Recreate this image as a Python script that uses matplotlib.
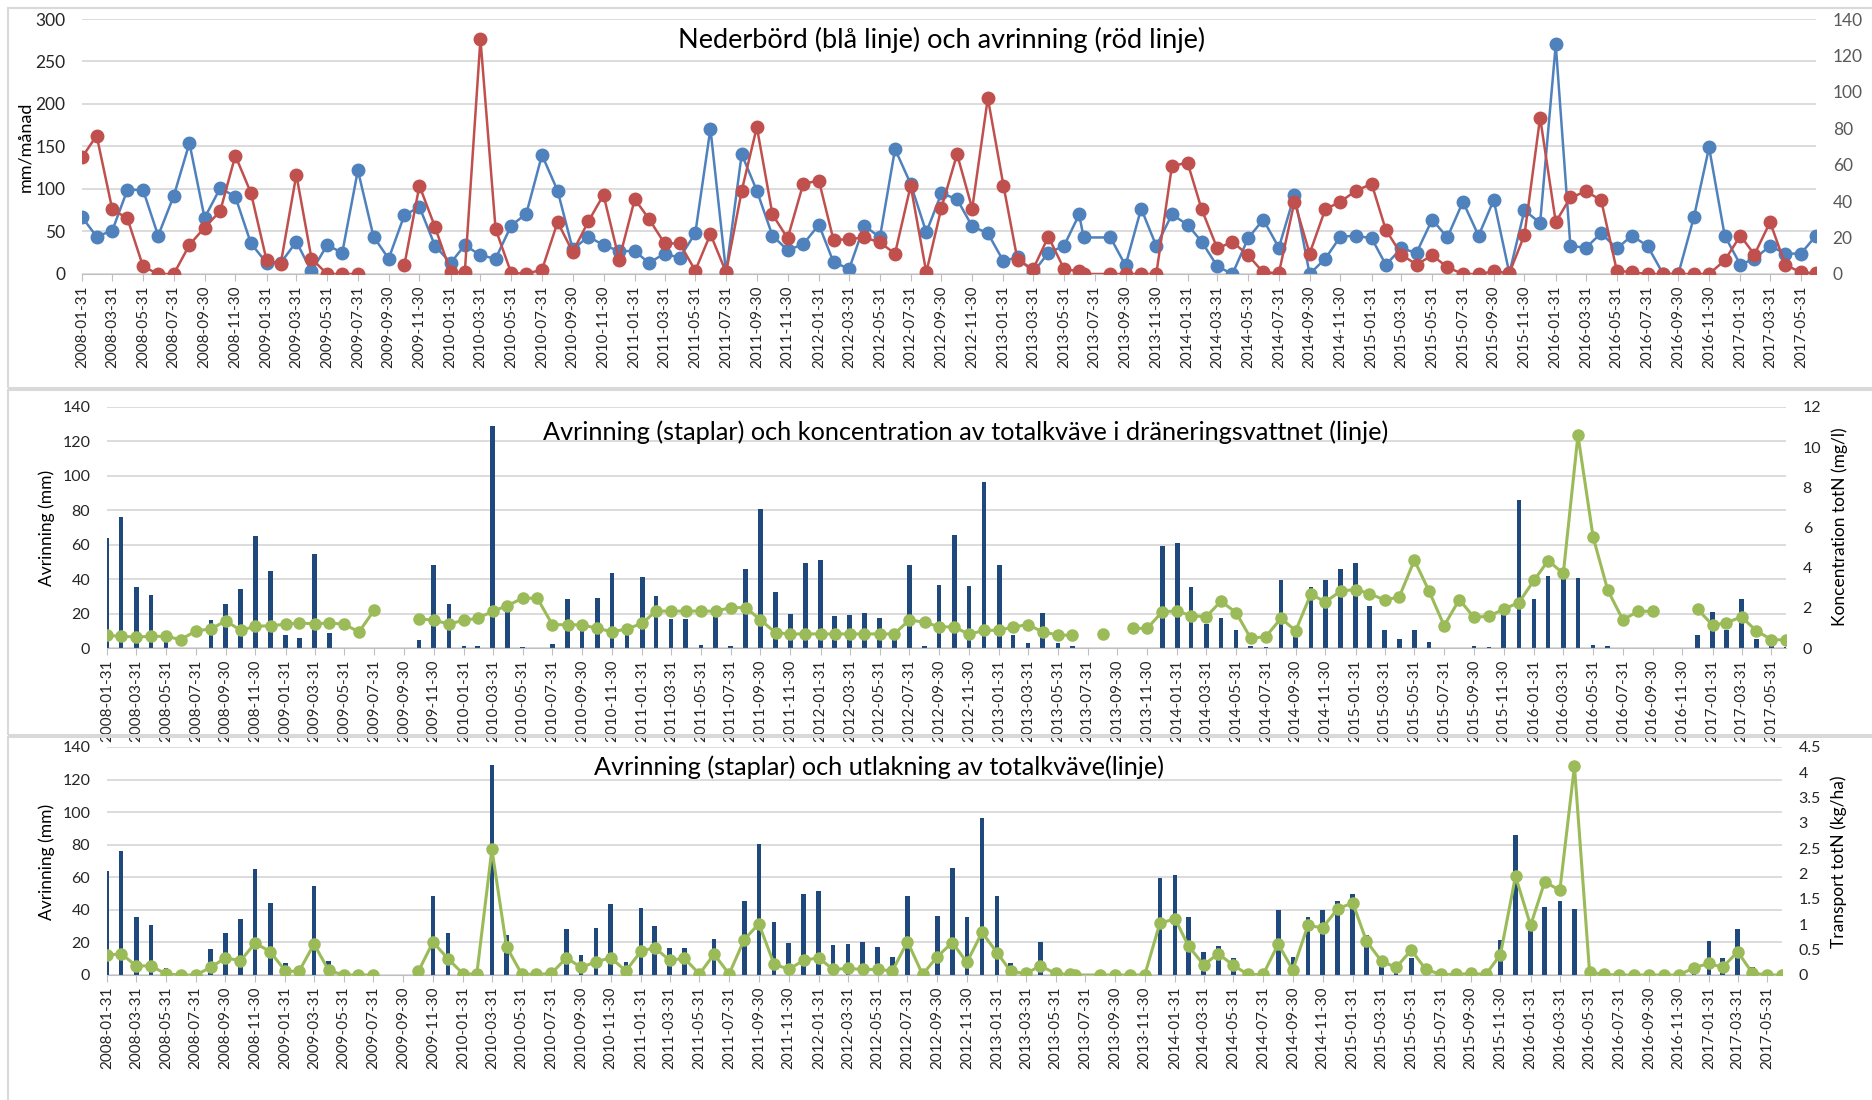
import numpy as np
import pandas as pd
import matplotlib.pyplot as plt
from matplotlib.patches import Rectangle

plt.rcParams['font.family'] = ['Lato', 'DejaVu Sans']

nan = np.nan

# Månadsdatum 2008-01 .. 2017-06 (ett extra mättillfälle i juli 2013)
dates = list(pd.date_range('2008-01-31', periods=114, freq='ME'))
dates[66] = pd.Timestamp('2013-07-09')
dates = pd.DatetimeIndex(dates)

tick_dates = pd.date_range('2008-01-31', '2017-05-31', freq='2ME')
tick_labels = [d.strftime('%Y-%m-%d') for d in tick_dates]

# Nederbörd (mm/månad)
nederbord = [67, 44, 51, 99, 99, 45, 92, 154, 66, 101,
             91, 36, 13, 13, 38, 3, 34, 25, 122, 44,
             18, 69, 79, 33, 13, 34, 22, 18, 57, 71,
             140, 98, 29, 44, 34, 27, 27, 13, 24, 19,
             48, 171, 2, 141, 98, 45, 28, 35, 58, 14,
             6, 57, 43, 147, 106, 49, 95, 88, 56, 48,
             15, 20, 2, 25, 33, 70, 43, 43, 10, 77,
             33, 70, 58, 38, 9, 0, 42, 64, 31, 93,
             0, 18, 44, 45, 42, 11, 30, 25, 64, 43,
             85, 45, 87, 1, 75, 60, 270, 33, 31, 48,
             30, 45, 33, 0, 0, 67, 149, 45, 11, 18,
             33, 24, 24, 45]

# Avrinning (mm)
avrinning = [64, 76, 35.5, 30.5, 4.2, 0, 0, 16, 25.5, 34.5,
             65, 44.5, 7.5, 5.6, 54.5, 8.5, 0, 0, 0, nan,
             nan, 4.7, 48.5, 25.7, 1, 1, 129, 24.7, 0.5, 0.2,
             2.3, 28.5, 12.1, 28.9, 43.4, 7.9, 41.1, 30.3, 16.8, 16.8,
             1.9, 21.9, 0.9, 45.7, 80.7, 32.7, 19.6, 49.5, 51.3, 18.7,
             19.1, 20.1, 17.3, 11.2, 48.5, 0.9, 36.4, 65.8, 35.9, 96.6,
             48.5, 7.5, 2.8, 20.5, 2.8, 1.4, 0, 0, 0, 0,
             0, 59.3, 61.1, 35.5, 14, 17.7, 10.3, 0.9, 0.5, 39.7,
             11.2, 35.5, 39.7, 45.7, 49.5, 24.3, 10.7, 5.1, 10.3, 3.7,
             0, 0, 1.4, 0.5, 21.5, 85.9, 28.5, 42, 45.3, 40.6,
             1.9, 0.9, 0, 0, 0, 0, 0, 7.5, 21, 10.7,
             28.5, 5.1, 0.9, 0.5]

# Koncentration totN (mg/l)
koncentration = [0.63, 0.58, 0.55, 0.58, 0.58, 0.42, 0.85, 0.95, 1.35, 0.88,
                 1.08, 1.11, 1.18, 1.25, 1.2, 1.25, 1.18, 0.8, 1.88, nan,
                 nan, 1.46, 1.38, 1.2, 1.38, 1.48, 1.83, 2.11, 2.48, 2.48,
                 1.16, 1.16, 1.15, 0.98, 0.81, 0.95, 1.23, 1.84, 1.83, 1.84,
                 1.84, 1.83, 2.01, 2.01, 1.4, 0.76, 0.7, 0.7, 0.7, 0.7,
                 0.7, 0.7, 0.7, 0.7, 1.4, 1.28, 1.06, 1.05, 0.68, 0.88,
                 0.88, 1.05, 1.16, 0.8, 0.65, 0.63, nan, 0.7, nan, 0.98,
                 0.98, 1.81, 1.84, 1.6, 1.56, 2.33, 1.76, 0.48, 0.57, 1.48,
                 0.86, 2.68, 2.29, 2.84, 2.91, 2.71, 2.39, 2.54, 4.37, 2.84,
                 1.11, 2.41, 1.53, 1.58, 1.94, 2.26, 3.37, 4.35, 3.71, 10.59,
                 5.53, 2.88, 1.4, 1.83, 1.83, nan, nan, 1.93, 1.13, 1.26,
                 1.55, 0.86, 0.42, 0.4]

# Transport totN (kg/ha)
transport = [0.39, 0.42, 0.18, 0.18, 0.02, 0, 0, 0.15, 0.34, 0.28,
             0.63, 0.46, 0.08, 0.07, 0.61, 0.09, 0, 0, 0, nan,
             nan, 0.07, 0.65, 0.32, 0.02, 0.02, 2.48, 0.56, 0.02, 0.01,
             0.03, 0.34, 0.15, 0.26, 0.34, 0.08, 0.47, 0.54, 0.29, 0.33,
             0.02, 0.41, 0.02, 0.7, 1.01, 0.22, 0.11, 0.29, 0.34, 0.11,
             0.13, 0.11, 0.11, 0.08, 0.66, 0.01, 0.36, 0.64, 0.25, 0.84,
             0.44, 0.07, 0.03, 0.18, 0.03, 0.01, 0, 0, 0, 0,
             0, 1.02, 1.11, 0.57, 0.2, 0.42, 0.19, 0.01, 0.01, 0.61,
             0.1, 0.98, 0.93, 1.31, 1.42, 0.67, 0.27, 0.15, 0.49, 0.11,
             0.01, 0.01, 0.03, 0.01, 0.4, 1.95, 0.98, 1.84, 1.67, 4.12,
             0.06, 0.01, 0, 0, 0, 0, 0, 0.14, 0.23, 0.15,
             0.46, 0.04, 0, 0]

BLUE = '#4F81BD'
RED = '#C0504D'
GREEN = '#9BBB59'
NAVY = '#1F497D'
GRID = '#D9D9D9'

W, H = 1872, 1100
fig = plt.figure(figsize=(W / 100, H / 100), dpi=100)


def px_axes(x0, y0, x1, y1):
    # pixel box (top-left origin) -> axes
    return fig.add_axes([x0 / W, 1 - y1 / H, (x1 - x0) / W, (y1 - y0) / H])


def style(ax, twin):
    ax.set_xlim(dates[0], dates[-1])
    ax.set_xticks(tick_dates)
    ax.set_xticklabels(tick_labels, rotation=90, fontsize=11, color='#262626')
    ax.tick_params(axis='x', length=5, color='#BFBFBF', pad=3)
    for s in ['top', 'left', 'right']:
        ax.spines[s].set_visible(False)
    ax.spines['bottom'].set_color('#BFBFBF')
    ax.yaxis.grid(True, color=GRID, lw=1.3)
    ax.set_axisbelow(True)
    ax.tick_params(axis='y', length=0, pad=12)
    for s in twin.spines.values():
        s.set_visible(False)
    twin.tick_params(axis='y', length=0, pad=12)


# panelramar
for y0, y1 in [(8, 388), (390, 735), (737, 1110)]:
    fig.add_artist(Rectangle((8 / W, 1 - y1 / H), 1.0, (y1 - y0) / H,
                             transform=fig.transFigure, fill=False,
                             ec='#D9D9D9', lw=1.5))

# Panel 1
ax1 = px_axes(82, 19, 1816, 274)
ax1r = ax1.twinx()
ax1.plot(dates, nederbord, color=BLUE, lw=1.8, marker='o', ms=9)
ax1r.plot(dates, avrinning, color=RED, lw=1.8, marker='o', ms=9)
ax1.set_ylim(0, 300)
ax1.set_yticks(range(0, 301, 50))
ax1r.set_ylim(0, 140)
ax1r.set_yticks(range(0, 141, 20))
style(ax1, ax1r)
ax1.tick_params(axis='y', labelsize=12.5, labelcolor='#262626')
ax1r.tick_params(axis='y', labelsize=12.5, labelcolor='#595959')
fig.text(25 / W, 1 - 147 / H, 'mm/månad', rotation=90, fontsize=13,
         ha='center', va='center')
fig.text(942 / W, 1 - 40 / H, 'Nederbörd (blå linje) och avrinning (röd linje)',
         fontsize=19.5, ha='center', va='center')

# Panel 2
ax2 = px_axes(107, 407, 1786, 648)
ax2r = ax2.twinx()
ax2.bar(dates, avrinning, width=9.5, color=NAVY)
ax2r.plot(dates, koncentration, color=GREEN, lw=2.2, marker='o', ms=8)
ax2.set_ylim(0, 140)
ax2.set_yticks(range(0, 141, 20))
ax2r.set_ylim(0, 12)
ax2r.set_yticks(range(0, 13, 2))
style(ax2, ax2r)
ax2.tick_params(axis='y', labelsize=11.5, labelcolor='#262626')
ax2r.tick_params(axis='y', labelsize=11.5, labelcolor='#262626')
fig.text(47 / W, 1 - 528 / H, 'Avrinning (mm)', rotation=90, fontsize=12.5,
         ha='center', va='center')
fig.text(1840 / W, 1 - 527 / H, 'Koncentration totN (mg/l)', rotation=90,
         fontsize=12.5, ha='center', va='center')
fig.text(966 / W, 1 - 432 / H,
         'Avrinning (staplar) och koncentration av totalkväve i dräneringsvattnet (linje)',
         fontsize=18.2, ha='center', va='center')

# Panel 3
ax3 = px_axes(107, 747, 1782, 975)
ax3r = ax3.twinx()
ax3.bar(dates, avrinning, width=9.5, color=NAVY)
ax3r.plot(dates, transport, color=GREEN, lw=2.2, marker='o', ms=8)
ax3.set_ylim(0, 140)
ax3.set_yticks(range(0, 141, 20))
ax3r.set_ylim(0, 4.5)
ax3r.set_yticks(np.arange(0, 4.51, 0.5))
ax3r.set_yticklabels(['0', '0.5', '1', '1.5', '2', '2.5', '3', '3.5', '4', '4.5'])
style(ax3, ax3r)
ax3.tick_params(axis='y', labelsize=11.5, labelcolor='#262626')
ax3r.tick_params(axis='y', labelsize=11.5, labelcolor='#262626')
fig.text(47 / W, 1 - 862 / H, 'Avrinning (mm)', rotation=90, fontsize=12.5,
         ha='center', va='center')
fig.text(1839 / W, 1 - 862 / H, 'Transport totN (kg/ha)', rotation=90,
         fontsize=12.5, ha='center', va='center')
fig.text(879 / W, 1 - 767 / H, 'Avrinning (staplar) och utlakning av totalkväve(linje)',
         fontsize=18.2, ha='center', va='center')

fig.savefig('out.png', dpi=100)
